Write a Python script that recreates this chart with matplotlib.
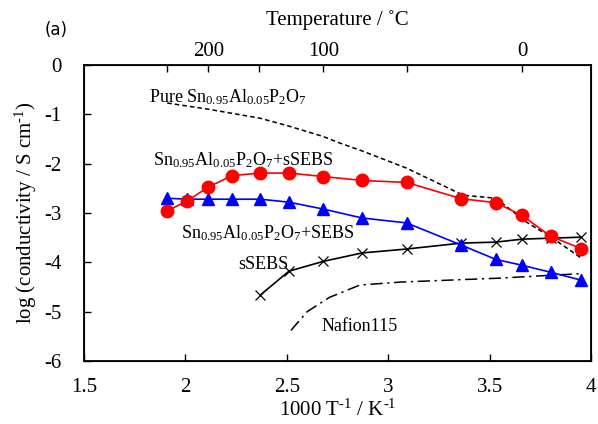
import matplotlib
matplotlib.use("Agg")
import matplotlib.pyplot as plt

plt.rcParams['font.family'] = ['Liberation Serif', 'DejaVu Serif']
plt.rcParams['mathtext.fontset'] = 'custom'
plt.rcParams['mathtext.rm'] = 'Liberation Serif'
plt.rcParams['mathtext.it'] = 'Liberation Serif:italic'
plt.rcParams['axes.unicode_minus'] = False

# ─── data (1000/T in K^-1, log conductivity in S/cm) ─────────────────────────
inv_t = [1.91, 2.01, 2.11, 2.23, 2.37, 2.51, 2.68, 2.87, 3.09, 3.36, 3.53, 3.66, 3.80, 3.95]
ssebs_composite = [-2.96, -2.75, -2.48, -2.24, -2.19, -2.19, -2.26, -2.34, -2.38,
                   -2.71, -2.79, -3.05, -3.47, -3.72]
sebs_composite = [-2.70, -2.72, -2.72, -2.72, -2.72, -2.78, -2.92, -3.10, -3.20,
                  -3.65, -3.94, -4.06, -4.20, -4.36]

ssebs_x = [2.37, 2.51, 2.68, 2.87, 3.09, 3.36, 3.53, 3.66, 3.80, 3.95]
ssebs_y = [-4.66, -4.18, -3.98, -3.81, -3.73, -3.61, -3.59, -3.53, -3.51, -3.49]

pure_x = [1.91, 2.12, 2.37, 2.52, 2.68, 2.76, 2.87, 3.09, 3.37, 3.53, 3.68, 3.81, 3.95]
pure_y = [-0.77, -0.90, -1.08, -1.25, -1.45, -1.58, -1.74, -2.09, -2.64, -2.70,
          -3.18, -3.51, -3.91]

nafion_x = [2.52, 2.60, 2.71, 2.86, 3.06, 3.55, 3.81, 3.95]
nafion_y = [-5.38, -5.00, -4.71, -4.46, -4.40, -4.32, -4.26, -4.23]

temp_ticks = [250, 200, 150, 100, 50, 0]
temp_labels = ['', '200', '', '100', '', '0']

# ─── plotting ────────────────────────────────────────────────────────────────
fig = plt.figure(figsize=(5.98, 4.24), dpi=100)
ax = fig.add_axes([0.1405, 0.1486, 0.848, 0.698])

ax.plot(pure_x, pure_y, color='black', ls=(0, (3, 2)), lw=1.1)
ax.plot(nafion_x, nafion_y, color='black', ls=(0, (8, 3, 1.5, 3)), lw=1.1)
ax.plot(ssebs_x, ssebs_y, color='black', lw=1.2, marker='x', ms=7, mew=0.9)
ax.plot(inv_t, sebs_composite, color='#0000ff', lw=1.2, marker='^', ms=9)
ax.plot(inv_t, ssebs_composite, color='#ff0000', lw=1.2, marker='o', ms=9)

ax.set_xlim(1.5, 4.0)
ax.set_ylim(-6, 0)
ax.set_xticks([1.5, 2, 2.5, 3, 3.5, 4])
ax.set_xticklabels(['1.5', '2', '2.5', '3', '3.5', '4'])
ax.set_yticks(range(-6, 1))
ax.tick_params(direction='in', labelsize=15, length=5, width=1, pad=12)
ax.tick_params(axis='y', pad=16)
for s in ax.spines.values():
    s.set_linewidth(1.3)

sup = r'$^{\mathregular{‐1}}$'
ax.set_xlabel('1000 T' + sup + ' / K' + sup, fontsize=15, labelpad=2)
ax.set_ylabel('log (conductivity / S cm' + sup + ')', fontsize=15, labelpad=4)

top = ax.twiny()
top.set_xlim(ax.get_xlim())
top.set_xticks([1000 / (t + 273.15) for t in temp_ticks])
top.set_xticklabels(temp_labels)
top.tick_params(direction='in', labelsize=15, length=5, width=1, pad=3)
top.set_xlabel('Temperature / ˚C', fontsize=15, labelpad=12)

lab = dict(fontsize=13, va='center', ha='left')
ax.text(1.82, -0.65, r'Pure Sn$_{0.95}$Al$_{0.05}$P$_2$O$_7$', **lab)
ax.text(1.84, -1.93, r'Sn$_{0.95}$Al$_{0.05}$P$_2$O$_7$+sSEBS', **lab)
ax.text(1.98, -3.4, r'Sn$_{0.95}$Al$_{0.05}$P$_2$O$_7$+SEBS', **lab)
ax.text(2.26, -4.05, 'sSEBS', **lab)
ax.text(2.67, -5.3, 'Nafion115', **lab)

fig.text(45 / 598, 1 - 30 / 424, '(a)', fontsize=12, family='DejaVu Sans', va='center')

fig.savefig('out.png', dpi=100)
